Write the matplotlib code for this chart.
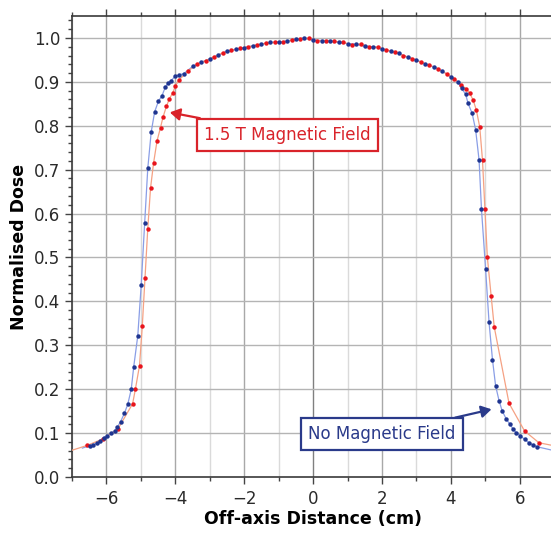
import matplotlib
matplotlib.use("Agg")
import matplotlib.pyplot as plt
from matplotlib.ticker import MultipleLocator
import numpy as np

# measured points, no magnetic field
blue_x = [-6.49, -6.39, -6.27, -6.19, -6.08, -5.98, -5.86, -5.76, -5.69, -5.59, -5.48, -5.38, -5.28,
          -5.21, -5.09, -4.99, -4.89, -4.80, -4.70, -4.60, -4.49, -4.39, -4.29, -4.21, -4.12, -4.00, -3.88,
          -3.75, -3.5, -3.25, -3.0, -2.75, -2.5, -2.25, -2.0, -1.75, -1.5, -1.25, -1.0, -0.75, -0.5, -0.25,
          0.0, 0.25, 0.5, 0.75, 1.0, 1.25, 1.5, 1.75, 2.0, 2.25, 2.5, 2.75, 3.0, 3.25, 3.5, 3.75, 4.0, 4.2,
          4.31, 4.43, 4.50, 4.62, 4.72, 4.82, 4.89, 5.01, 5.11, 5.21, 5.30, 5.40, 5.49, 5.61, 5.71, 5.81,
          5.90, 6.02, 6.14, 6.27, 6.39, 6.50]
blue_y = [0.071, 0.072, 0.078, 0.082, 0.090, 0.094, 0.100, 0.105, 0.113, 0.126, 0.145, 0.166, 0.200,
          0.250, 0.322, 0.438, 0.579, 0.703, 0.786, 0.832, 0.856, 0.868, 0.888, 0.897, 0.903, 0.913, 0.916,
          0.919, 0.935, 0.945, 0.952, 0.961, 0.970, 0.974, 0.978, 0.982, 0.986, 0.990, 0.990, 0.993, 0.997, 1.000,
          0.995, 0.994, 0.993, 0.990, 0.987, 0.986, 0.981, 0.980, 0.975, 0.970, 0.965, 0.956, 0.950, 0.941, 0.934, 0.925, 0.911, 0.900,
          0.885, 0.872, 0.851, 0.828, 0.791, 0.722, 0.610, 0.473, 0.352, 0.267, 0.208, 0.174, 0.151, 0.132, 0.121, 0.109,
          0.101, 0.094, 0.086, 0.078, 0.073, 0.069]

# measured points, 1.5 T field
red_x = [-6.56, -6.10, -5.67, -5.24, -5.16, -5.04, -4.96, -4.88, -4.80, -4.72, -4.63, -4.53, -4.43, -4.36,
         -4.26, -4.17, -4.08, -4.00, -3.90,
         -3.62, -3.38, -3.12, -2.88, -2.62, -2.38, -2.12, -1.88, -1.62, -1.38, -1.12, -0.88, -0.62, -0.38, -0.12,
         0.12, 0.38, 0.62, 0.88, 1.12, 1.38, 1.62, 1.88, 2.12, 2.38, 2.62, 2.88, 3.12, 3.38, 3.62, 3.88, 4.10, 4.30,
         4.45, 4.55, 4.65, 4.74, 4.84, 4.92, 4.99, 5.06, 5.17, 5.26, 5.69, 6.14, 6.56]
red_y = [0.072, 0.087, 0.109, 0.167, 0.200, 0.254, 0.343, 0.454, 0.566, 0.658, 0.716, 0.766, 0.796, 0.819,
         0.844, 0.862, 0.874, 0.890, 0.904,
         0.925, 0.940, 0.948, 0.957, 0.966, 0.972, 0.976, 0.980, 0.984, 0.988, 0.990, 0.991, 0.995, 0.998, 0.999,
         0.994, 0.994, 0.992, 0.990, 0.984, 0.986, 0.980, 0.979, 0.973, 0.968, 0.960, 0.953, 0.945, 0.938, 0.930, 0.918, 0.907, 0.893,
         0.884, 0.874, 0.858, 0.836, 0.797, 0.721, 0.610, 0.501, 0.413, 0.342, 0.168, 0.105, 0.078]

# ends of the fitted lines, outside the measured range
blue_ends = [(-6.7, 0.066), (6.95, 0.061)]
red_ends = [(-7.0, 0.061), (6.95, 0.072)]

fig = plt.figure(figsize=(5.51, 5.33), dpi=100)
ax = fig.add_axes([0.1307, 0.105, 0.875, 0.865])

lx = [blue_ends[0][0]] + blue_x + [blue_ends[1][0]]
ly = [blue_ends[0][1]] + blue_y + [blue_ends[1][1]]
ax.plot(lx, ly, color="#8a9ee6", linewidth=0.9, zorder=3)
lx = [red_ends[0][0]] + red_x + [red_ends[1][0]]
ly = [red_ends[0][1]] + red_y + [red_ends[1][1]]
ax.plot(lx, ly, color="#f5a183", linewidth=0.9, zorder=3)

ax.plot(red_x, red_y, "o", color="#e8141c", markersize=3.2, markeredgewidth=0, zorder=4)
ax.plot(blue_x, blue_y, "o", color="#1f3590", markersize=3.2, markeredgewidth=0, zorder=5)

ax.set_xlim(-7, 7)
ax.set_ylim(0, 1.05)
ax.xaxis.set_major_locator(MultipleLocator(2))
ax.xaxis.set_minor_locator(MultipleLocator(1))
ax.yaxis.set_major_locator(MultipleLocator(0.1))
ax.yaxis.set_minor_locator(MultipleLocator(0.02))
ax.yaxis.set_major_formatter(matplotlib.ticker.FormatStrFormatter("%.1f"))
ax.xaxis.set_major_formatter(matplotlib.ticker.FuncFormatter(lambda v, p: f"{v:.0f}".replace("-", "\u2212")))

for v in range(-7, 8):
    if v == 0:
        c = "#808080"
    elif v % 2 == 0:
        c = "#a8a8a8"
    else:
        c = "#dadada"
    ax.axvline(v, color=c, linewidth=1.0, zorder=1)
for v in np.arange(0.1, 1.01, 0.1):
    ax.axhline(v, color="#b4b4b4", linewidth=1.0, zorder=1)

ax.tick_params(axis="both", which="major", direction="out", length=5, width=1, colors="#444444",
               labelsize=12, labelcolor="#2a2a2a", top=True)
ax.tick_params(axis="both", which="minor", direction="out", length=3, width=1, colors="#444444", top=True)
ax.tick_params(axis="x", pad=4)
for s in ["left", "bottom", "top"]:
    ax.spines[s].set_color("#3a3a3a")
    ax.spines[s].set_linewidth(1.2)
ax.spines["right"].set_visible(False)

ax.set_xlabel("Off-axis Distance (cm)", fontsize=12.5, fontweight="bold", labelpad=2)
ax.set_ylabel("Normalised Dose", fontsize=12.5, fontweight="bold", labelpad=4)

ax.annotate("1.5 T Magnetic Field", xy=(-4.2, 0.831), xytext=(-0.74, 0.779),
            ha="center", va="center", fontsize=12, color="#d9232a",
            bbox=dict(boxstyle="square,pad=0.42", fc="white", ec="#d9232a", lw=1.6),
            arrowprops=dict(arrowstyle="-|>,head_length=0.5,head_width=0.3", color="#d9232a", lw=1.6,
                            shrinkA=0, shrinkB=1), zorder=6)
ax.annotate("No Magnetic Field", xy=(5.22, 0.155), xytext=(2.0, 0.097),
            ha="center", va="center", fontsize=12, color="#2a3a8a",
            bbox=dict(boxstyle="square,pad=0.42", fc="white", ec="#2a3a8a", lw=1.6),
            arrowprops=dict(arrowstyle="-|>,head_length=0.5,head_width=0.3", color="#2a3a8a", lw=1.6,
                            shrinkA=0, shrinkB=1), zorder=6)

fig.savefig("out.png", dpi=100)
